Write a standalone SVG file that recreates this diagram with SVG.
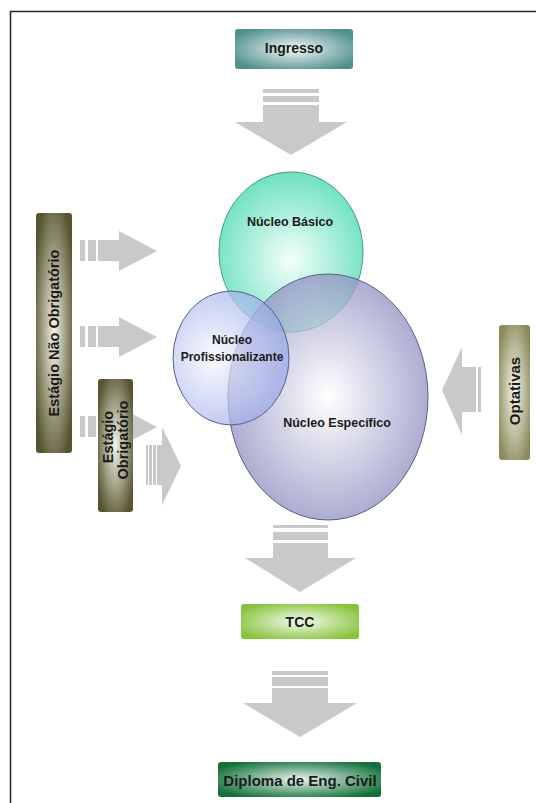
<svg xmlns="http://www.w3.org/2000/svg" width="536" height="803" viewBox="0 0 536 803">
<defs>
<radialGradient id="gTeal" cx="0.5" cy="0.5" r="0.6"><stop offset="0" stop-color="#f2f8f8"/><stop offset="1" stop-color="#4f8f8c"/></radialGradient>
<radialGradient id="gOlive" cx="0.5" cy="0.5" r="0.6"><stop offset="0" stop-color="#f4f4e8"/><stop offset="1" stop-color="#57542f"/></radialGradient>
<radialGradient id="gOlive2" cx="0.5" cy="0.5" r="0.6"><stop offset="0" stop-color="#f8f8ee"/><stop offset="1" stop-color="#8c8a5a"/></radialGradient>
<radialGradient id="gLime" cx="0.5" cy="0.5" r="0.6"><stop offset="0" stop-color="#f4faec"/><stop offset="1" stop-color="#86c23a"/></radialGradient>
<radialGradient id="gGreen" cx="0.5" cy="0.5" r="0.6"><stop offset="0" stop-color="#eaf4ee"/><stop offset="1" stop-color="#12703a"/></radialGradient>
<radialGradient id="cBas" cx="0.5" cy="0.55" r="0.55"><stop offset="0" stop-color="#f2fffb"/><stop offset="1" stop-color="#55dcb6"/></radialGradient>
<radialGradient id="cEsp" cx="0.5" cy="0.5" r="0.55"><stop offset="0" stop-color="#ffffff"/><stop offset="1" stop-color="#8686bc"/></radialGradient>
<radialGradient id="cPro" cx="0.35" cy="0.5" r="0.6"><stop offset="0" stop-color="#f6f8ff"/><stop offset="1" stop-color="#9aaae8"/></radialGradient>
</defs>
<style>
.t{font-family:"Liberation Sans",Arial,sans-serif;font-weight:bold;fill:#1a1a1a;text-anchor:middle;dominant-baseline:central}
.ar{fill:#c9c9c9}
.box{stroke:none}
</style>
<rect width="536" height="803" fill="#ffffff"/>
<path d="M10.5 803 V11.5 H536" fill="none" stroke="#2a2a2a" stroke-width="1.6"/>

<g id="connectors">
  <g class="ar">
    <rect x="263" y="89" width="56" height="4"/>
    <rect x="263" y="96" width="56" height="6"/>
    <polygon points="263,105 319,105 319,122 347,122 291,155 235,122 263,122"/>
  </g>
  <g class="ar">
    <rect x="80" y="240" width="5" height="21"/><rect x="88" y="240" width="8" height="21"/>
    <polygon points="98,240 119,240 119,231 157,251 119,271 119,261 98,261"/>
    <rect x="80" y="326" width="5" height="21"/><rect x="88" y="326" width="8" height="21"/>
    <polygon points="98,326 119,326 119,317 157,337 119,357 119,347 98,347"/>
    <rect x="80" y="416" width="5" height="21"/><rect x="88" y="416" width="8" height="21"/>
    <polygon points="98,416 119,416 119,407 157,427 119,447 119,437 98,437"/>
  </g>
  <g class="ar">
    <rect x="146" y="445" width="2" height="40"/>
    <rect x="149" y="445" width="3" height="40"/>
    <rect x="153" y="445" width="3" height="40"/>
    <polygon points="157,445 162,445 162,427 181,466 162,505 162,485 157,485"/>
  </g>
  <g class="ar">
    <rect x="478" y="367" width="3" height="45"/>
    <polygon points="476,367 462,367 462,347 442,390 462,435 462,412 476,412"/>
  </g>
  <g class="ar">
    <rect x="273" y="525" width="55" height="3"/>
    <rect x="273" y="532" width="55" height="8"/>
    <polygon points="273,543 328,543 328,558 356,558 300,592 245,558 273,558"/>
  </g>
  <g class="ar">
    <rect x="272" y="671" width="56" height="4"/>
    <rect x="272" y="677" width="56" height="9"/>
    <polygon points="272,688 328,688 328,703 357,703 300,737 243,703 272,703"/>
  </g>
</g>

<g id="ingresso">
  <rect class="box" x="235" y="29" width="118" height="40" rx="3" fill="url(#gTeal)"/>
  <text class="t" x="294" y="48" font-size="14">Ingresso</text>
</g>

<g id="nucleo-basico">
  <ellipse cx="291" cy="252" rx="72" ry="80" fill="url(#cBas)" fill-opacity="0.85" stroke="#3e9c88" stroke-width="1"/>
  <text class="t" x="290" y="222" font-size="12.5">Núcleo Básico</text>
</g>
<g id="nucleo-especifico">
  <ellipse cx="328" cy="397" rx="100" ry="123" fill="url(#cEsp)" fill-opacity="0.75" stroke="#5e5e86" stroke-width="1"/>
  <text class="t" x="337" y="423" font-size="12.5">Núcleo Específico</text>
</g>
<g id="nucleo-profissionalizante">
  <ellipse cx="231" cy="358" rx="58" ry="67" fill="url(#cPro)" fill-opacity="0.7" stroke="#55608e" stroke-width="1"/>
  <text class="t" x="232" y="340" font-size="12">Núcleo</text>
  <text class="t" x="232" y="357" font-size="12">Profissionalizante</text>
</g>

<g id="estagio-nao-obrigatorio">
  <rect class="box" x="36" y="213" width="36" height="240" rx="3" fill="url(#gOlive)"/>
  <text class="t" font-size="14.5" transform="translate(54 333) rotate(-90)">Estágio Não Obrigatório</text>
</g>
<g id="estagio-obrigatorio">
  <rect class="box" x="98" y="379" width="35" height="133" rx="3" fill="url(#gOlive)"/>
  <text class="t" font-size="14.5" transform="translate(108 437) rotate(-90)">Estágio</text>
  <text class="t" font-size="14.5" transform="translate(123 440) rotate(-90)">Obrigatório</text>
</g>
<g id="optativas">
  <rect class="box" x="499" y="325" width="31" height="135" rx="3" fill="url(#gOlive2)"/>
  <text class="t" font-size="15" transform="translate(514 391) rotate(-90)">Optativas</text>
</g>
<g id="tcc">
  <rect class="box" x="241" y="604" width="118" height="35" rx="3" fill="url(#gLime)"/>
  <text class="t" x="300" y="622" font-size="14">TCC</text>
</g>
<g id="diploma">
  <rect class="box" x="218" y="762" width="163" height="35" rx="3" fill="url(#gGreen)"/>
  <text class="t" x="300" y="780" font-size="15">Diploma de Eng. Civil</text>
</g>
</svg>
